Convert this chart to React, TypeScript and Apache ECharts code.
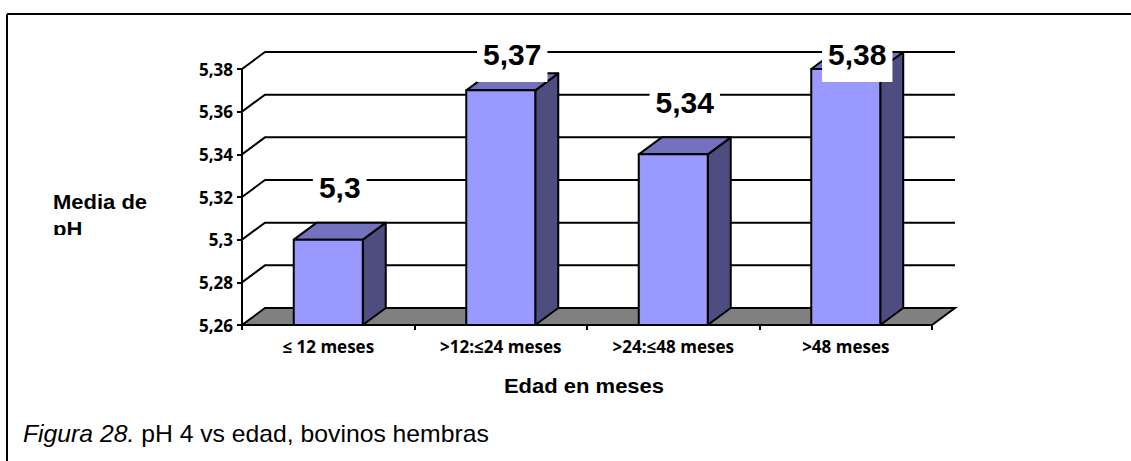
import React, { useEffect, useRef } from "react";
import * as echarts from "echarts";

// Edad (categorías) y media de pH por grupo
const categories = ["≤ 12 meses", ">12:≤24 meses", ">24:≤48 meses", ">48 meses"];
const phMeans = [5.3, 5.37, 5.34, 5.38];
const phTicks = [5.26, 5.28, 5.3, 5.32, 5.34, 5.36, 5.38];

const yAxisTitle = ["Media de", "pH"];
const xAxisTitle = "Edad en meses";
const captionLead = "Figura 28.";
const captionRest = " pH 4 vs edad, bovinos hembras";

// pseudo-3D depth offset (pixels)
const DX = 23;
const DY = 17;

const FRONT = "#9999FF";
const TOP = "#7272BF";
const SIDE = "#4D4D80";
const FLOOR = "#808080";

const LABEL_FONT = 'bold 30px "Liberation Sans", Arial, sans-serif';
const AXIS_FONT_FAMILY = "'Open Sans', Lato, sans-serif";
const TITLE_FAMILY = '"Liberation Sans", Arial, sans-serif';

const fmt = (v: number) => String(Number(v.toFixed(2))).replace(".", ",");

let measureCtx: CanvasRenderingContext2D | null = null;
function textWidth(text: string, font: string) {
  if (!measureCtx) measureCtx = document.createElement("canvas").getContext("2d");
  if (!measureCtx) return text.length * 16;
  measureCtx.font = font;
  return measureCtx.measureText(text).width;
}

export default function App() {
  const ref = useRef<HTMLDivElement>(null);

  useEffect(() => {
    document.body.style.margin = "0";
    if (!ref.current) return;
    const chart = echarts.init(ref.current, undefined, { renderer: "svg" });
    const yMin = phTicks[0];
    const yMax = phTicks[phTicks.length - 1];

    const option: any = {
      animation: false,
      backgroundColor: "#ffffff",
      grid: { left: 242, right: 199, top: 69, bottom: 136 },
      xAxis: {
        type: "category",
        data: categories,
        axisLine: { show: true, lineStyle: { color: "#000", width: 2 } },
        axisTick: { show: true, length: 5, lineStyle: { color: "#000", width: 2 } },
        axisLabel: {
          interval: 0,
          margin: 13,
          color: "#000",
          fontSize: 17,
          fontWeight: "bold",
          fontFamily: AXIS_FONT_FAMILY,
        },
        splitLine: { show: false },
      },
      yAxis: {
        type: "value",
        min: yMin,
        max: yMax,
        interval: 0.02,
        axisLine: { show: true, lineStyle: { color: "#000", width: 2 } },
        axisTick: { show: true, length: 5, lineStyle: { color: "#000", width: 2 } },
        axisLabel: {
          margin: 9,
          color: "#000",
          fontSize: 17,
          fontWeight: "bold",
          fontFamily: AXIS_FONT_FAMILY,
          formatter: (v: number) => fmt(v),
        },
        splitLine: { show: false },
      },
      series: [
        {
          // floor and back-wall gridlines
          type: "custom",
          z: 1,
          silent: true,
          data: phTicks.map((v) => [0, v]),
          renderItem: (params: any, api: any) => {
            const cs = params.coordSys;
            const v = api.value(1);
            const y = api.coord([0, v])[1];
            if (v === yMin) {
              return {
                type: "polygon",
                shape: {
                  points: [
                    [cs.x, y],
                    [cs.x + cs.width, y],
                    [cs.x + cs.width + DX, y - DY],
                    [cs.x + DX, y - DY],
                  ],
                },
                style: { fill: FLOOR, stroke: "#000", lineWidth: 2 },
              };
            }
            return {
              type: "polyline",
              shape: {
                points: [
                  [cs.x, y],
                  [cs.x + DX, y - DY],
                  [cs.x + cs.width + DX, y - DY],
                ],
              },
              style: { fill: "none", stroke: "#000", lineWidth: 2 },
            };
          },
        },
        {
          // 3D bars
          type: "custom",
          z: 3,
          data: phMeans.map((v, i) => [i, v]),
          renderItem: (params: any, api: any) => {
            const i = api.value(0);
            const v = api.value(1);
            const base = api.coord([i, yMin]);
            const top = api.coord([i, v]);
            const band = api.size([1, 0])[0];
            const w = band * 0.4;
            const x0 = base[0] - w / 2;
            const x1 = x0 + w;
            const yb = base[1];
            const yt = top[1];
            const stroke = { stroke: "#000", lineWidth: 2, lineJoin: "round" };
            return {
              type: "group",
              children: [
                {
                  type: "polygon",
                  shape: { points: [[x1, yb], [x1 + DX, yb - DY], [x1 + DX, yt - DY], [x1, yt]] },
                  style: { fill: SIDE, ...stroke },
                },
                {
                  type: "polygon",
                  shape: { points: [[x0, yt], [x1, yt], [x1 + DX, yt - DY], [x0 + DX, yt - DY]] },
                  style: { fill: TOP, ...stroke },
                },
                {
                  type: "rect",
                  shape: { x: x0, y: yt, width: w, height: yb - yt },
                  style: { fill: FRONT, ...stroke },
                },
              ],
            };
          },
        },
        {
          // value labels on white boxes
          type: "custom",
          z: 5,
          data: phMeans.map((v, i) => [i, v]),
          renderItem: (params: any, api: any) => {
            const cs = params.coordSys;
            const i = api.value(0);
            const v = api.value(1);
            const top = api.coord([i, v]);
            const cx = top[0] + DX / 2;
            const cy = Math.max(top[1] - DY - 35, cs.y - 15);
            const text = fmt(v);
            const tw = textWidth(text, LABEL_FONT);
            return {
              type: "group",
              children: [
                {
                  type: "rect",
                  shape: { x: cx - tw / 2 - 6, y: cy - 15, width: tw + 12, height: 43 },
                  style: { fill: "#fff" },
                },
                {
                  type: "text",
                  x: cx,
                  y: cy,
                  style: {
                    text,
                    font: LABEL_FONT,
                    fill: "#000",
                    align: "center",
                    verticalAlign: "middle",
                  },
                },
              ],
            };
          },
        },
      ],
      graphic: [
        {
          type: "line",
          shape: { x1: 7, y1: 14, x2: 1131, y2: 14 },
          style: { stroke: "#000", lineWidth: 2 },
        },
        {
          type: "line",
          shape: { x1: 7, y1: 14, x2: 7, y2: 461 },
          style: { stroke: "#000", lineWidth: 2 },
        },
        {
          type: "text",
          x: 53,
          y: 202,
          scaleX: 1.1,
          style: {
            text: yAxisTitle[0],
            fontFamily: TITLE_FAMILY,
            fontWeight: "bold",
            fontSize: 20,
            fill: "#000",
            verticalAlign: "middle",
          },
        },
        {
          type: "text",
          x: 53,
          y: 229,
          scaleX: 1.1,
          style: {
            text: yAxisTitle[1],
            fontFamily: TITLE_FAMILY,
            fontWeight: "bold",
            fontSize: 20,
            fill: "#000",
            verticalAlign: "middle",
          },
        },
        {
          // the axis title box cuts off the second line
          type: "rect",
          left: 45,
          top: 235,
          shape: { width: 110, height: 18 },
          style: { fill: "#fff" },
          z: 10,
        },
        {
          type: "text",
          x: 584,
          y: 386,
          scaleX: 1.1,
          style: {
            text: xAxisTitle,
            fontFamily: TITLE_FAMILY,
            fontWeight: "bold",
            fontSize: 20,
            fill: "#000",
            align: "center",
            verticalAlign: "middle",
          },
        },
        {
          type: "text",
          x: 23,
          y: 434,
          scaleX: 1.03,
          style: {
            text: `{i|${captionLead}}{n|${captionRest}}`,
            verticalAlign: "middle",
            rich: {
              i: {
                fontFamily: TITLE_FAMILY,
                fontStyle: "italic",
                fontSize: 24,
                fill: "#000",
              },
              n: {
                fontFamily: TITLE_FAMILY,
                fontSize: 24,
                fill: "#000",
              },
            },
          },
        },
      ],
    };

    chart.setOption(option);
    return () => chart.dispose();
  }, []);

  return <div ref={ref} style={{ width: 1131, height: 461 }} />;
}
